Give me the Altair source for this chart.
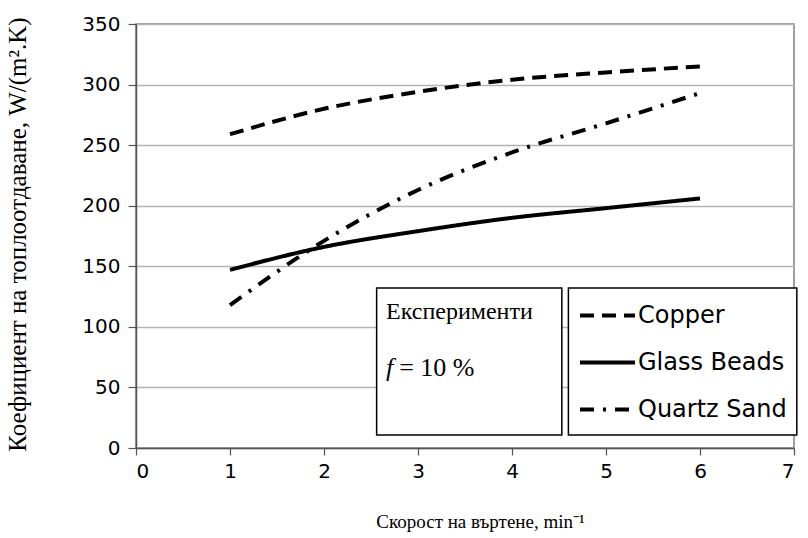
import altair as alt
import pandas as pd

# ---- data ----
speed = [1, 2, 3, 4, 5, 6]
copper = [259, 280, 294, 304, 310, 315]
glass_beads = [147, 166, 179, 190, 198, 206]
quartz_sand = [118, 171, 213, 244, 268, 293]

series_names = ["Copper", "Glass Beads", "Quartz Sand"]
series_values = [copper, glass_beads, quartz_sand]

x_ticks = [0, 1, 2, 3, 4, 5, 6, 7]
y_ticks = [0, 50, 100, 150, 200, 250, 300, 350]

x_title = "Скорост на въртене, min⁻¹"
y_title = "Коефициент на топлоотдаване, W/(m².K)"
note_title = "Експерименти"
note_f = "f"
note_value = "= 10 %"

rows = []
for name, vals in zip(series_names, series_values):
    for s, v in zip(speed, vals):
        rows.append({"speed": s, "h": v, "material": name})
df = pd.DataFrame(rows)

# annotation / legend frames (in data coordinates)
boxes = pd.DataFrame([
    {"x": 2.56, "x2": 4.53, "y": 10.7, "y2": 132.0},
    {"x": 4.60, "x2": 7.03, "y": 10.7, "y2": 132.0},
])
notes = pd.DataFrame([
    {"x": 2.66, "y": 112, "t": note_title, "style": "normal", "fs": 24},
    {"x": 2.66, "y": 66, "t": note_f, "style": "italic", "fs": 26},
    {"x": 2.80, "y": 66, "t": note_value, "style": "normal", "fs": 26},
])

xscale = alt.Scale(domain=[0, 7], nice=False)
yscale = alt.Scale(domain=[0, 350], nice=False)

xaxis = alt.Axis(
    values=x_ticks, format="d", title=x_title, grid=False,
    labelFont="DejaVu Sans", labelFontSize=20, labelColor="black",
    labelPadding=6, tickSize=7, tickColor="#555", domainColor="#555",
    domainWidth=1.5, tickWidth=1.2,
    titleFont="Liberation Serif", titleFontSize=19, titleFontWeight="normal",
    titleColor="black", titleX=344, titleY=64, titleBaseline="top",
    titleAlign="center",
)
yaxis = alt.Axis(
    values=y_ticks, format="d", title=y_title, grid=True, gridColor="#b4b4b4",
    gridWidth=1.5,
    labelFont="DejaVu Sans", labelFontSize=20, labelColor="black",
    labelPadding=8, tickSize=8, tickColor="#555", domainColor="#555",
    domainWidth=1.5, tickWidth=1.2,
    titleFont="Liberation Serif", titleFontSize=25, titleFontWeight="normal",
    titleColor="black", titleX=-106, titleY=210, titleAngle=-90,
    titleBaseline="bottom", titleAlign="center",
)

lines = alt.Chart(df).mark_line(
    color="black", strokeWidth=4, interpolate="monotone"
).encode(
    x=alt.X("speed:Q", scale=xscale, axis=xaxis),
    y=alt.Y("h:Q", scale=yscale, axis=yaxis),
    strokeDash=alt.StrokeDash(
        "material:N",
        scale=alt.Scale(domain=series_names,
                        range=[[14, 8], [1, 0], [14, 9, 3, 9]]),
        legend=alt.Legend(
            title=None, orient="none", legendX=442, legendY=262,
            padding=0,
            labelFont="DejaVu Sans", labelFontSize=24,
            labelColor="black", labelOffset=1, rowPadding=5,
            symbolType="stroke", symbolSize=3025, symbolStrokeWidth=4,
            symbolStrokeColor="black",
        ),
    ),
)

rect = alt.Chart(boxes).mark_rect(
    fill="white", stroke="black", strokeWidth=1.5
).encode(
    x=alt.X("x:Q", scale=xscale), x2="x2:Q",
    y=alt.Y("y:Q", scale=yscale), y2="y2:Q",
)

text_normal = alt.Chart(notes).transform_filter(
    alt.datum.style == "normal"
).mark_text(
    font="Liberation Serif", align="left", baseline="middle", color="black"
).encode(
    x=alt.X("x:Q", scale=xscale), y=alt.Y("y:Q", scale=yscale), text="t:N",
    size=alt.Size("fs:Q", scale=None, legend=None),
)
text_italic = alt.Chart(notes).transform_filter(
    alt.datum.style == "italic"
).mark_text(
    font="Liberation Serif", fontStyle="italic", align="left",
    baseline="middle", color="black"
).encode(
    x=alt.X("x:Q", scale=xscale), y=alt.Y("y:Q", scale=yscale), text="t:N",
    size=alt.Size("fs:Q", scale=None, legend=None),
)

chart = alt.layer(lines, rect, text_normal, text_italic).properties(
    width=658, height=424,
    autosize=alt.AutoSizeParams(type="none"),
    padding={"left": 136, "top": 24, "right": 14, "bottom": 90},
    background="white",
).configure_view(stroke="#808080", strokeWidth=1.5)

chart.save("out.html", embed_options={"renderer": "svg", "actions": False})
